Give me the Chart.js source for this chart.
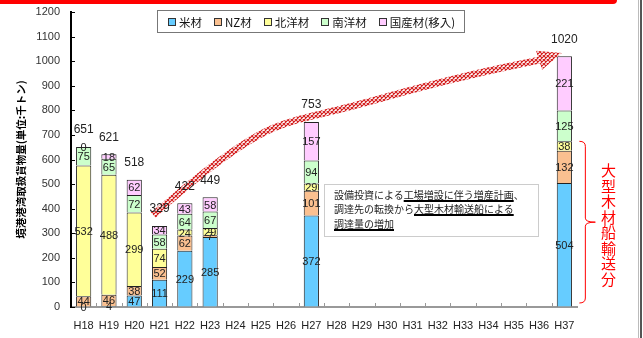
<!DOCTYPE html>
<html>
<head>
<meta charset="utf-8">
<script src="https://cdn.jsdelivr.net/npm/chart.js@4.4.1/dist/chart.umd.min.js"></script>
<style>
    body { margin: 0; background: #fff; }
    #wrap { position: relative; width: 643px; height: 338px; overflow: hidden; background: #fff; }
    #topbar { position: absolute; left: 0; top: 0; width: 617px; height: 4px; background: #ff0000; border-radius: 0 0 4px 0; }
    #edge1 { position: absolute; left: 638px; top: 0; width: 1px; height: 338px; background: #bbb; }
    #edge2 { position: absolute; left: 640px; top: 0; width: 2px; height: 338px; background: #555; }
    #legend { position: absolute; left: 157px; top: 10px; width: 296px; height: 21px; border: 1px solid #777;
              display: flex; align-items: center; gap: 12px; padding-left: 10px;
              font-family: "Noto Sans CJK JP", sans-serif; font-size: 11.5px; color: #111; }
    .item { display: flex; align-items: center; white-space: nowrap; }
    .sw { width: 6px; height: 6px; border: 1px solid #333; margin-right: 3px; }
    #note { position: absolute; left: 324px; top: 184px; width: 204px; height: 48px; border: 1px solid #ccc;
            padding: 3px 0 0 9px; font-family: "Noto Sans CJK JP", sans-serif; font-size: 10px; line-height: 14.3px; color: #222; }
    #note u { text-decoration: underline; text-decoration-thickness: 1.5px; text-underline-offset: 1px; text-decoration-color: #000; }
    #vtext { position: absolute; left: 600px; top: 163px; width: 16px; height: 130px; writing-mode: vertical-rl;
             font-family: "Noto Sans CJK JP", sans-serif; font-size: 15px; line-height: 16px; letter-spacing: 0.5px; color: #ff0000; }
</style>
</head>
<body>
<div id="wrap">
    <canvas id="chart" width="643" height="338"></canvas>
    <div id="topbar"></div>
    <div id="edge1"></div>
    <div id="edge2"></div>
    <div id="legend"></div>
    <div id="note">設備投資による<u>工場増設に伴う増産計画</u>、<br>調達先の転換から<u>大型木材輸送船による</u><br><u>調達量の増加</u></div>
    <div id="vtext">大型木材船輸送分</div>
</div>
<script>
// --- Data ---
const categories = ['H18', 'H19', 'H20', 'H21', 'H22', 'H23', 'H24', 'H25', 'H26', 'H27',
    'H28', 'H29', 'H30', 'H31', 'H32', 'H33', 'H34', 'H35', 'H36', 'H37'];
const N = null;
const beizai  = [0, 4, 47, 111, 229, 285, N, N, N, 372, N, N, N, N, N, N, N, N, N, 504];
const nzzai   = [44, 46, 38, 52, 62, 7, N, N, N, 101, N, N, N, N, N, N, N, N, N, 132];
const hokuyo  = [532, 488, 299, 74, 24, 29, N, N, N, 29, N, N, N, N, N, N, N, N, N, 38];
const nanyo   = [75, 65, 72, 58, 64, 67, N, N, N, 94, N, N, N, N, N, N, N, N, N, 125];
const kokusan = [0, 18, 62, 34, 43, 58, N, N, N, 157, N, N, N, N, N, N, N, N, N, 221];
const totals  = [651, 621, 518, 329, 422, 449, N, N, N, 753, N, N, N, N, N, N, N, N, N, 1020];

const seriesNames  = ['米材', 'NZ材', '北洋材', '南洋材', '国産材(移入)'];
const seriesColors = ['#66ccff', '#fac090', '#ffff99', '#ccffcc', '#ffccff'];

// trend arrow, in (category index, value)
const arrowPath = [[2.75, 374], [4.2, 504], [6.2, 659], [7.8, 748], [10.4, 809], [12.9, 882], [15.7, 955], [18.0, 1004]];
const arrowTip = [18.9, 1033];

// bracket for large-ship share on H37 (value range)
const bracketFrom = 0;
const bracketTo = 674;

const NUM_FONT = '"Liberation Sans", Arial, sans-serif';
const CJK_FONT = '"Noto Sans CJK JP", sans-serif';

// --- Legend ---
const legendEl = document.getElementById('legend');
seriesNames.forEach((name, i) => {
    const it = document.createElement('div');
    it.className = 'item';
    it.innerHTML = `<span class="sw" style="background:${seriesColors[i]}"></span>${name}`;
    legendEl.appendChild(it);
});

// --- Plugins ---
function hatchPattern(ctx) {
    const p = document.createElement('canvas');
    p.width = 4; p.height = 4;
    const g = p.getContext('2d');
    g.fillStyle = '#fff';
    g.fillRect(0, 0, 4, 4);
    g.strokeStyle = '#d42020';
    g.lineWidth = 1.2;
    g.beginPath();
    g.moveTo(0, 0); g.lineTo(4, 4);
    g.moveTo(4, 0); g.lineTo(0, 4);
    g.stroke();
    return ctx.createPattern(p, 'repeat');
}

const decorPlugin = {
    id: 'decor',
    afterDatasetsDraw(chart) {
        const ctx = chart.ctx;
        const xs = chart.scales.x, ys = chart.scales.y;
        const px = i => xs.getPixelForValue(0) + i * (xs.getPixelForValue(1) - xs.getPixelForValue(0));
        ctx.save();

        // inner tick marks
        ctx.strokeStyle = '#000';
        ctx.lineWidth = 1;
        for (let v = 0; v <= 1200; v += 100) {
            const y = Math.round(ys.getPixelForValue(v)) + 0.5;
            ctx.beginPath(); ctx.moveTo(xs.left, y); ctx.lineTo(xs.left + 4, y); ctx.stroke();
        }
        ctx.strokeStyle = '#999';
        for (let i = 1; i < categories.length; i++) {
            const x = Math.round(px(i - 0.5)) + 0.5;
            ctx.beginPath(); ctx.moveTo(x, ys.bottom); ctx.lineTo(x, ys.bottom - 4); ctx.stroke();
        }

        // hatched arrow
        const pat = hatchPattern(ctx);
        const pts = arrowPath.map(([i, v]) => [px(i), ys.getPixelForValue(v)]);
        ctx.strokeStyle = pat;
        ctx.lineWidth = 7;
        ctx.lineJoin = 'round';
        ctx.beginPath();
        ctx.moveTo(pts[0][0], pts[0][1]);
        for (let k = 1; k < pts.length - 1; k++) {
            const mx = (pts[k][0] + pts[k + 1][0]) / 2, my = (pts[k][1] + pts[k + 1][1]) / 2;
            ctx.quadraticCurveTo(pts[k][0], pts[k][1], mx, my);
        }
        const last = pts[pts.length - 1];
        ctx.lineTo(last[0], last[1]);
        ctx.stroke();
        const tx = px(arrowTip[0]), ty = ys.getPixelForValue(arrowTip[1]);
        const ang = Math.atan2(ty - last[1], tx - last[0]);
        const hw = 10;
        ctx.fillStyle = pat;
        ctx.beginPath();
        ctx.moveTo(tx, ty);
        ctx.lineTo(last[0] + Math.sin(ang) * hw, last[1] - Math.cos(ang) * hw);
        ctx.lineTo(last[0] - Math.sin(ang) * hw, last[1] + Math.cos(ang) * hw);
        ctx.closePath();
        ctx.fill();

        // bracket next to H37
        const lastIdx = categories.length - 1;
        const bx = px(lastIdx) + 21;
        const top = ys.getPixelForValue(bracketTo), bot = ys.getPixelForValue(bracketFrom) - 4;
        const mid = (top + bot) / 2;
        ctx.strokeStyle = '#ff0000';
        ctx.lineWidth = 1;
        ctx.beginPath();
        ctx.moveTo(bx - 6, top);
        ctx.quadraticCurveTo(bx, top, bx, top + 5);
        ctx.lineTo(bx, mid - 4);
        ctx.quadraticCurveTo(bx, mid, bx + 10, mid);
        ctx.moveTo(bx + 10, mid);
        ctx.quadraticCurveTo(bx, mid, bx, mid + 4);
        ctx.lineTo(bx, bot - 5);
        ctx.quadraticCurveTo(bx, bot, bx - 6, bot);
        ctx.stroke();

        // value labels
        ctx.textAlign = 'center';
        ctx.textBaseline = 'middle';
        ctx.fillStyle = '#222';
        ctx.font = '11px ' + NUM_FONT;
        chart.data.datasets.forEach((ds, di) => {
            chart.getDatasetMeta(di).data.forEach((bar, j) => {
                if (ds.data[j] === null) return;
                ctx.fillText(String(ds.data[j]), bar.x, (bar.y + bar.base) / 2 + 1);
            });
        });
        const topMeta = chart.getDatasetMeta(chart.data.datasets.length - 1);
        ctx.font = '12px ' + NUM_FONT;
        totals.forEach((t, j) => {
            if (t === null) return;
            const bar = topMeta.data[j];
            ctx.fillText(String(t), bar.x, bar.y - 17);
        });
        ctx.restore();
    }
};

// --- Chart ---
const datasets = [beizai, nzzai, hokuyo, nanyo, kokusan].map((d, i) => ({
    label: seriesNames[i],
    data: d,
    backgroundColor: seriesColors[i],
    borderColor: '#222',
    borderWidth: 1,
    barPercentage: 0.6,
    categoryPercentage: 1.0
}));

new Chart(document.getElementById('chart').getContext('2d'), {
    type: 'bar',
    data: { labels: categories, datasets: datasets },
    plugins: [decorPlugin],
    options: {
        responsive: false,
        animation: false,
        layout: { padding: { left: 0, right: 66, top: 12, bottom: 0 } },
        plugins: { legend: { display: false }, tooltip: { enabled: false } },
        scales: {
            x: {
                stacked: true,
                grid: { display: true, drawOnChartArea: false, drawTicks: false },
                border: { color: '#999', width: 2 },
                ticks: { font: { family: NUM_FONT, size: 11 }, color: '#222', padding: 12, autoSkip: false, maxRotation: 0 },
                afterFit: s => { s.height = 31; s.paddingTop = 0; }
            },
            y: {
                stacked: true,
                min: 0,
                max: 1200,
                grid: { display: true, drawOnChartArea: false, drawTicks: false },
                border: { color: '#000', width: 2 },
                ticks: { stepSize: 100, font: { family: NUM_FONT, size: 11, lineHeight: 0.8 }, color: '#333', padding: 11, callback: v => String(v) },
                title: {
                    display: true,
                    text: '境港港湾取扱貨物量(単位:千トン)',
                    font: { family: CJK_FONT, size: 10.5, weight: 'bold' },
                    color: '#000',
                    padding: { top: 15, bottom: 0 }
                },
                afterFit: s => { s.width = 71; s.paddingTop = 0; s.paddingBottom = 0; }
            }
        }
    }
});
</script>
</body>
</html>
